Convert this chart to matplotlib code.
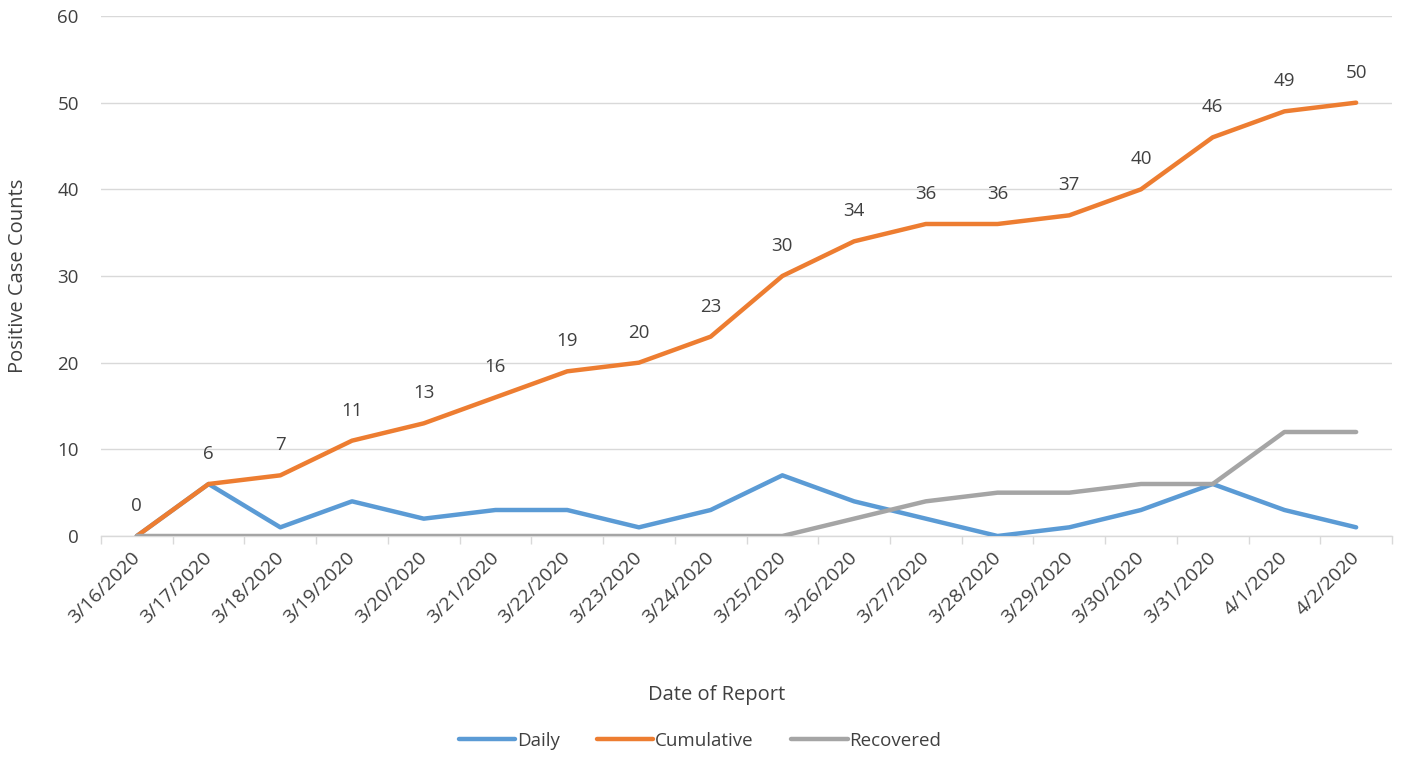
import matplotlib
matplotlib.use("Agg")
import matplotlib.pyplot as plt
import matplotlib.transforms as mtransforms
import numpy as np

dates = ["3/16/2020", "3/17/2020", "3/18/2020", "3/19/2020", "3/20/2020", "3/21/2020",
         "3/22/2020", "3/23/2020", "3/24/2020", "3/25/2020", "3/26/2020", "3/27/2020",
         "3/28/2020", "3/29/2020", "3/30/2020", "3/31/2020", "4/1/2020", "4/2/2020"]
daily = [0, 6, 1, 4, 2, 3, 3, 1, 3, 7, 4, 2, 0, 1, 3, 6, 3, 1]
cumulative = [0, 6, 7, 11, 13, 16, 19, 20, 23, 30, 34, 36, 36, 37, 40, 46, 49, 50]
recovered = [0, 0, 0, 0, 0, 0, 0, 0, 0, 0, 2, 4, 5, 5, 6, 6, 12, 12]

plt.rcParams['font.family'] = ['Open Sans', 'DejaVu Sans']
txt = '#404040'
fig = plt.figure(figsize=(14.03, 7.58), dpi=100)
ax = fig.add_axes([101/1403, 1-536/758, (1392-101)/1403, (536-16)/758])

x = np.arange(len(dates))
ax.plot(x, daily, color='#5B9BD5', lw=3.2, label='Daily', solid_capstyle='round', zorder=3)
ax.plot(x, cumulative, color='#ED7D31', lw=3.2, label='Cumulative', solid_capstyle='round', zorder=4)
ax.plot(x, recovered, color='#A5A5A5', lw=3.2, label='Recovered', solid_capstyle='round', zorder=5)

for xi, v in zip(x, cumulative):
    ax.annotate(str(v), (xi, v), xytext=(0, 15), textcoords='offset points',
                ha='center', va='bottom', fontsize=13.5, color=txt)

ax.set_xlim(-0.5, len(dates) - 0.5)
ax.set_ylim(0, 60)
ax.set_yticks(range(0, 61, 10))
ax.grid(axis='y', color='#D9D9D9', lw=1)
ax.set_axisbelow(True)
for s in ['top', 'right', 'left']:
    ax.spines[s].set_visible(False)
ax.spines['bottom'].set_color('#D9D9D9')
ax.spines['bottom'].set_linewidth(1)
ax.spines['bottom'].set_zorder(1)

ax.set_xticks(x)
ax.set_xticklabels(dates, rotation=45, ha='right', rotation_mode='anchor', fontsize=14, color=txt)
ax.tick_params(axis='x', length=0, pad=9)
offset = mtransforms.ScaledTranslation(-6/100, 0, fig.dpi_scale_trans)
for lbl in ax.get_xticklabels():
    lbl.set_transform(lbl.get_transform() + offset)
ax.set_xticks(np.arange(-0.5, len(dates), 1), minor=True)
ax.tick_params(axis='x', which='minor', length=6, color='#D9D9D9', width=1)
ax.tick_params(axis='y', length=0, labelsize=13.5, labelcolor=txt, pad=16)

fig.text(717/1403, 1-695/758, 'Date of Report', ha='center', va='center', fontsize=14.5, color=txt)
fig.text(18/1403, 1-276/758, 'Positive Case Counts', ha='center', va='center', rotation=90, fontsize=14.5, color=txt)

leg = fig.legend(loc='center', bbox_to_anchor=(700/1403, 1-741/758), ncol=3, frameon=False,
                 fontsize=13.5, handlelength=3.0, handletextpad=0.1, columnspacing=2.0)
for t in leg.get_texts():
    t.set_color(txt)

fig.savefig('out.png', dpi=100)
